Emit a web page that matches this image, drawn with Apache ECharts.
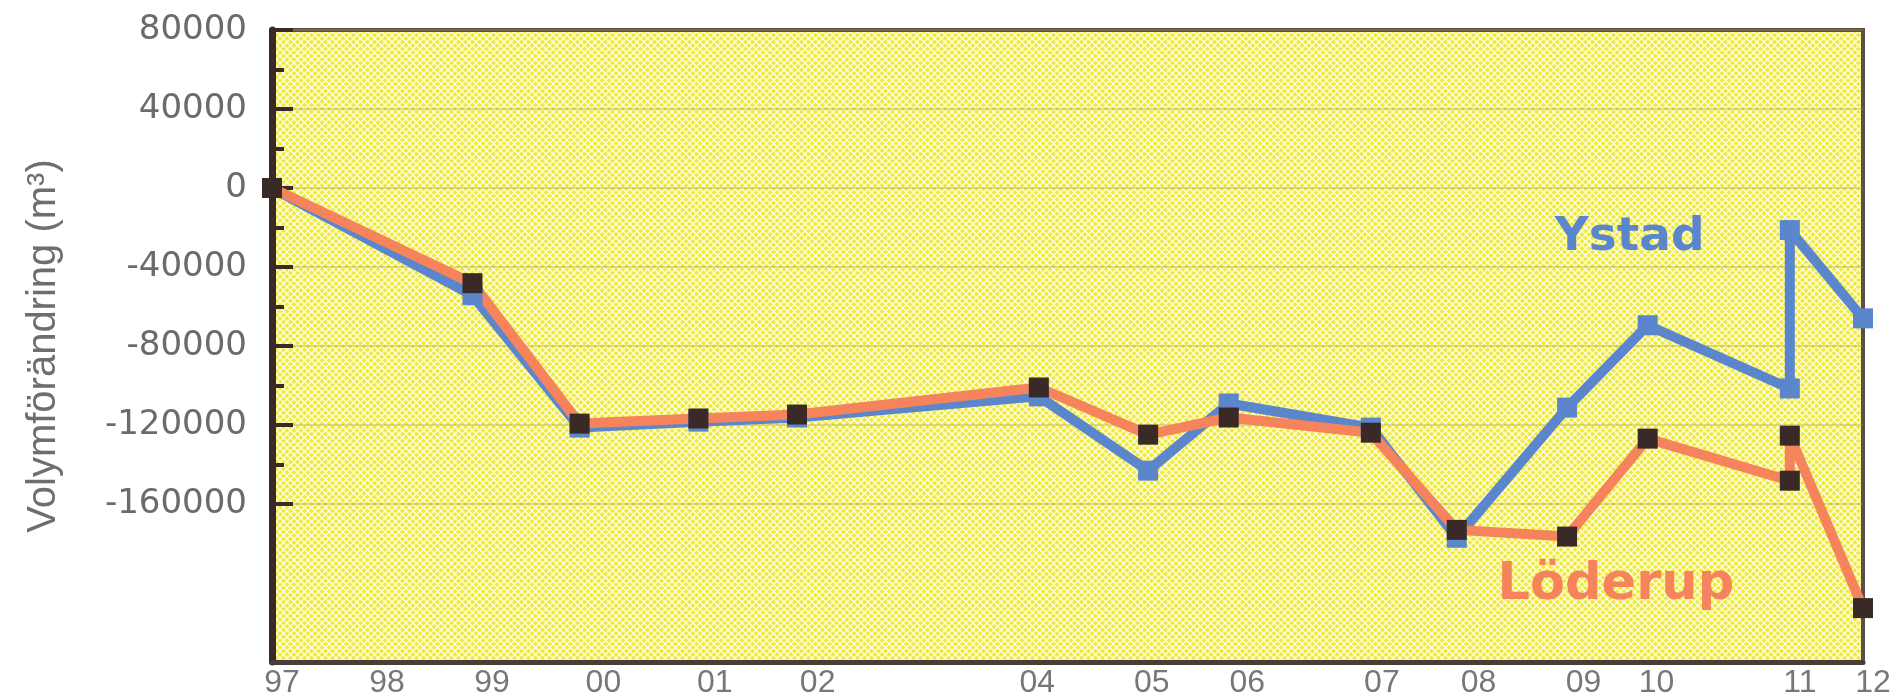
<!DOCTYPE html>
<html><head><meta charset="utf-8">
<script src="https://cdn.jsdelivr.net/npm/echarts@6/dist/echarts.min.js"></script>
<style>html,body{margin:0;padding:0;background:#fff}#c{width:1895px;height:694px}</style>
</head><body><div id="c"></div>
<script>
// survey dates (decimal years)
const surveyX = [1997.00, 1998.89, 1999.90, 2001.02, 2001.95, 2004.23, 2005.26, 2006.02, 2007.36, 2008.17, 2009.21, 2009.97, 2011.31, 2011.31, 2012.00];
const ystad   = [0, -54300, -121300, -118300, -116200, -105500, -143100, -109100, -121300, -177100, -111200, -69500, -101500, -21300, -66000];
const loderup = [0, -48200, -119300, -116700, -114700, -101000, -124900, -116200, -123900, -173100, -176500, -126900, -148200, -125400, -212700];
const xTickText = ['97','98','99','00','01','02','04','05','06','07','08','09','10','11','12'];
const xTickPos  = [1997.00, 1997.99, 1998.98, 2000.03, 2001.08, 2002.05, 2004.12, 2005.20, 2006.10, 2007.37, 2008.28, 2009.27, 2009.96, 2011.31, 2012.00];
const yMajor = [80000, 40000, 0, -40000, -80000, -120000, -160000];
const yMinor = [60000, 20000, -20000, -60000, -100000, -140000];
const seriesNames = ['Ystad', 'Löderup'];
const labelPos = [[2009.80, -25400], [2009.67, -201300]];

const blue = '#5b86cc', orange = '#f5845c', brown = '#3a2a27';

const tile = document.createElement('canvas');
tile.width = 7; tile.height = 7;
const g = tile.getContext('2d');
g.fillStyle = '#f0ea38'; g.fillRect(0, 0, 7, 7);
g.strokeStyle = 'rgba(255,255,255,0.9)'; g.lineWidth = 1.3;
g.beginPath();
g.moveTo(-1, -1); g.lineTo(8, 8);
g.moveTo(8, -1); g.lineTo(-1, 8);
g.stroke();

const xLabelMap = {};
xTickPos.forEach((p, i) => { xLabelMap[p.toFixed(2)] = xTickText[i]; });

const chart = echarts.init(document.getElementById('c'));
chart.setOption({
  animation: false,
  grid: {
    left: 272, right: 32, top: 30, bottom: 32,
    outerBoundsMode: 'none', containLabel: false,
    show: true,
    backgroundColor: { image: tile, repeat: 'repeat' },
    borderColor: '#5b4f4c', borderWidth: 4
  },
  xAxis: {
    type: 'value', min: 1997, max: 2012,
    axisLine: { show: true, onZero: false, lineStyle: { color: '#4a3c38', width: 5 } },
    axisTick: { show: false },
    splitLine: { show: false },
    axisLabel: {
      customValues: xTickPos,
      formatter: v => xLabelMap[Number(v).toFixed(2)] || '',
      color: '#777', fontFamily: "'Liberation Sans', Arial, sans-serif", fontSize: 32,
      margin: 5, padding: [0, 0, 0, 20]
    }
  },
  yAxis: [{
    type: 'value', min: -240000, max: 80000, interval: 40000,
    position: 'left',
    axisLine: { show: true, onZero: false, lineStyle: { color: brown, width: 7 } },
    axisTick: { show: true, inside: true, length: 21, customValues: yMajor, lineStyle: { color: brown, width: 4 } },
    axisLabel: { customValues: yMajor, formatter: v => String(v), color: '#6b6b6b', fontFamily: "'DejaVu Sans', sans-serif", fontSize: 34, margin: 25 },
    splitLine: { show: true, lineStyle: { color: 'rgba(165,155,50,0.45)', width: 1.5 } },
    name: 'Volymförändring (m³)', nameLocation: 'middle', nameGap: 208,
    nameTextStyle: { color: '#6e6e6e', fontFamily: "'Liberation Sans', Arial, sans-serif", fontSize: 40 }
  }, {
    type: 'value', min: -240000, max: 80000, interval: 20000,
    position: 'left', offset: 0,
    axisLine: { show: false },
    axisTick: { show: true, inside: true, length: 12, customValues: yMinor, lineStyle: { color: brown, width: 4 } },
    axisLabel: { show: false },
    splitLine: { show: false }
  }],
  series: [{
    name: seriesNames[0], type: 'line',
    data: surveyX.map((x, i) => [x, ystad[i]]),
    symbol: 'rect', symbolSize: 20,
    lineStyle: { color: blue, width: 10 },
    itemStyle: { color: blue },
    markPoint: {
      symbol: 'rect', symbolSize: 1, itemStyle: { color: 'rgba(0,0,0,0)' },
      data: [{ coord: labelPos[0], label: { show: true, position: 'inside', formatter: seriesNames[0], color: blue, fontFamily: "'DejaVu Sans', sans-serif", fontWeight: 'bold', fontSize: 47 } }]
    }
  }, {
    name: seriesNames[1], type: 'line',
    data: surveyX.map((x, i) => [x, loderup[i]]),
    symbol: 'rect', symbolSize: 20,
    lineStyle: { color: orange, width: 10 },
    itemStyle: { color: brown },
    markPoint: {
      symbol: 'rect', symbolSize: 1, itemStyle: { color: 'rgba(0,0,0,0)' },
      data: [{ coord: labelPos[1], label: { show: true, position: 'inside', formatter: seriesNames[1], color: orange, fontFamily: "'DejaVu Sans', sans-serif", fontWeight: 'bold', fontSize: 51 } }]
    }
  }]
});
</script>
</body></html>
